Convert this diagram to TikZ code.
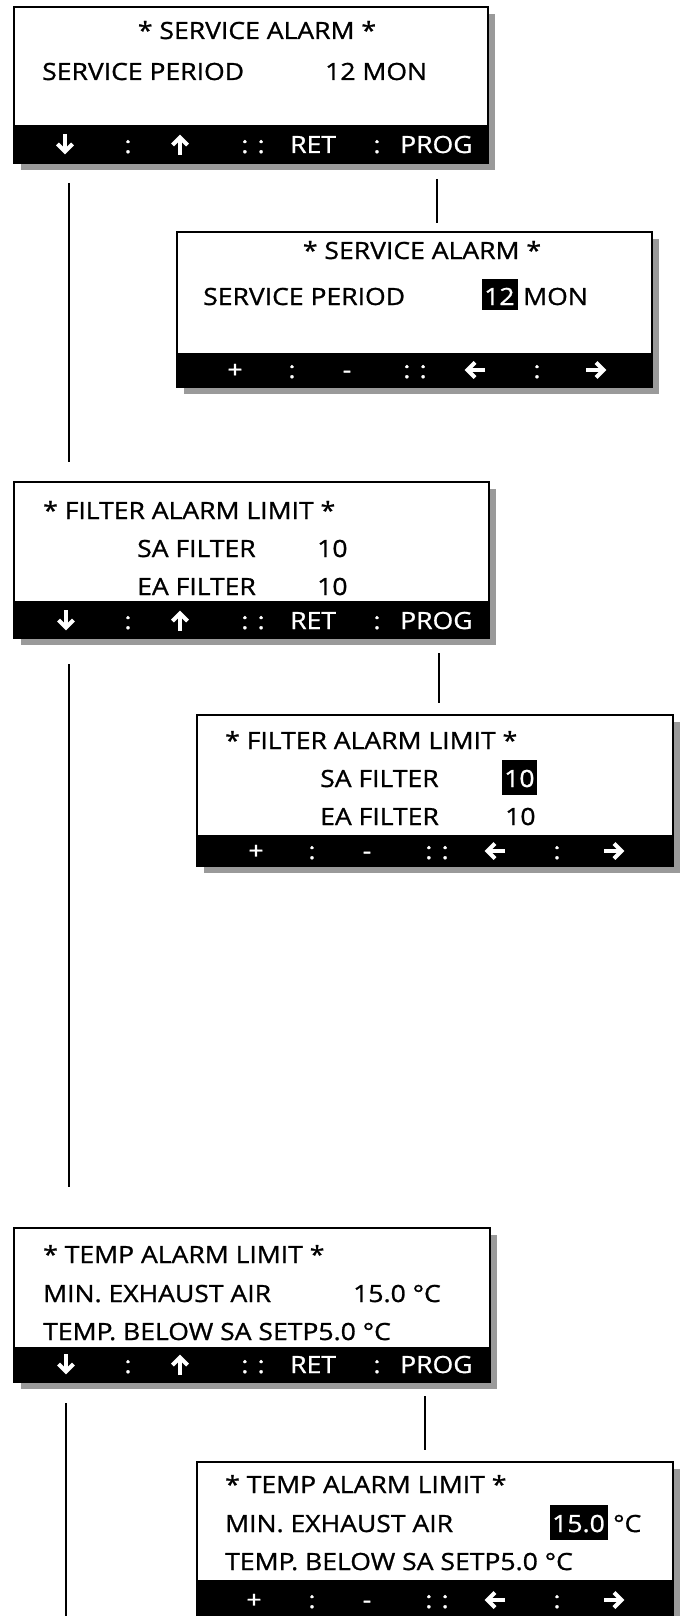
\documentclass[tikz,border=0pt]{standalone}
\usepackage{fontspec}
\setmainfont{Open Sans}[FakeStretch=1.12, FakeBold=1]
\definecolor{shadowgray}{HTML}{9A9A9A}
\newcommand\screen[6]{%
  \fill[shadowgray] (#2+7,#3+7) rectangle (#4+7,#5+7);
  \fill[white] (#2,#3) rectangle (#4,#5);
  \fill[black] (#2,#6) rectangle (#4,#5);
  \draw[line width=1.6pt] (#2,#3) rectangle (#4,#5);
  \coordinate (#1) at (#2,#3);
}
\tikzset{
  lcd/.style={font=\fontsize{23.7}{28}\selectfont, inner sep=0pt, anchor=base west},
  lcdc/.style={lcd, anchor=base},
  barc/.style={lcd, anchor=base, text=white},
  barw/.style={lcd, text=white},
  hlbox/.style={fill=black},
  conn/.style={line width=2pt},
  arr/.style={white, line width=4.2pt, line join=miter, line cap=butt},
  darr/.pic={\draw[arr] (0,-10) -- (0,6); \draw[arr] (-7.5,0) -- (0,7.5) -- (7.5,0);},
  uarr/.pic={\draw[arr] (0,10) -- (0,-6); \draw[arr] (-7.5,0) -- (0,-7.5) -- (7.5,0);},
  larr/.pic={\draw[arr] (10,0) -- (-6,0); \draw[arr] (0,-7.5) -- (-7.5,0) -- (0,7.5);},
  rarr/.pic={\draw[arr] (-10,0) -- (6,0); \draw[arr] (0,-7.5) -- (7.5,0) -- (0,7.5);},
}
\begin{document}
\begin{tikzpicture}[x=1pt,y=-1pt]
\useasboundingbox (0,0) rectangle (683,1616);
\clip (0,0) rectangle (683,1616);

% ---------- Screen 1 ----------
\screen{b1}{14}{7}{488}{163}{125}
\node[lcdc] (t1a) at (257,39) {* SERVICE ALARM *};
\node[lcd] (t1b) at (42,80) {SERVICE PERIOD};
\node[lcd] (t1c) at (325,80) {12 MON};
\pic at (65,144) {darr};
\node[barc] (k1a) at (128,153) {:};
\pic at (180,145) {uarr};
\node[barc] (k1b) at (253,153) {: :};
\node[barw] (k1c) at (290,153) {RET};
\node[barc] (k1d) at (377,153) {:};
\node[barw] (k1e) at (400,153) {PROG};

% ---------- Screen 2 ----------
\screen{b2}{177}{232}{652}{387}{353}
\node[lcdc] (t2a) at (422,259) {* SERVICE ALARM *};
\node[lcd] (t2b) at (203,305) {SERVICE PERIOD};
\fill[hlbox] (482,279) rectangle (518,310);
\node[lcd, text=white] (t2c) at (484,305) {12};
\node[lcd] (t2d) at (523,305) {MON};
\node[barc] (k2a) at (235,378) {+};
\node[barc] (k2b) at (292,378) {:};
\node[barc] (k2c) at (347,378) {-};
\node[barc] (k2d) at (415,378) {: :};
\pic at (475,370) {larr};
\node[barc] (k2e) at (537,378) {:};
\pic at (596,370) {rarr};

% ---------- Screen 3 ----------
\screen{b3}{14}{482}{489}{638}{601}
\node[lcd] (t3a) at (43,519) {* FILTER ALARM LIMIT *};
\node[lcd] (t3b) at (137,557) {SA FILTER};
\node[lcd] (t3c) at (317,557) {10};
\node[lcd] (t3d) at (137,595) {EA FILTER};
\node[lcd] (t3e) at (317,595) {10};
\pic at (66,620) {darr};
\node[barc] (k3a) at (128,629) {:};
\pic at (180,621) {uarr};
\node[barc] (k3b) at (253,629) {: :};
\node[barw] (k3c) at (290,629) {RET};
\node[barc] (k3d) at (377,629) {:};
\node[barw] (k3e) at (400,629) {PROG};

% ---------- Screen 4 ----------
\screen{b4}{197}{715}{673}{866}{835}
\node[lcd] (t4a) at (225,749) {* FILTER ALARM LIMIT *};
\node[lcd] (t4b) at (320,787) {SA FILTER};
\fill[hlbox] (502,760) rectangle (537,795);
\node[lcd, text=white] (t4c) at (504,787) {10};
\node[lcd] (t4d) at (320,825) {EA FILTER};
\node[lcd] (t4e) at (505,825) {10};
\node[barc] (k4a) at (256,859) {+};
\node[barc] (k4b) at (312,859) {:};
\node[barc] (k4c) at (367,859) {-};
\node[barc] (k4d) at (437,859) {: :};
\pic at (495,851) {larr};
\node[barc] (k4e) at (557,859) {:};
\pic at (614,851) {rarr};

% ---------- Screen 5 ----------
\screen{b5}{14}{1228}{490}{1382}{1347}
\node[lcd] (t5a) at (43,1263) {* TEMP ALARM LIMIT *};
\node[lcd] (t5b) at (43,1302) {MIN. EXHAUST AIR};
\node[lcd] (t5c) at (353,1302) {15.0 °C};
\node[lcd] (t5d) at (43,1340) {TEMP. BELOW SA SETP5.0 °C};
\pic at (66,1364) {darr};
\node[barc] (k5a) at (128,1373) {:};
\pic at (180,1365) {uarr};
\node[barc] (k5b) at (253,1373) {: :};
\node[barw] (k5c) at (290,1373) {RET};
\node[barc] (k5d) at (377,1373) {:};
\node[barw] (k5e) at (400,1373) {PROG};

% ---------- Screen 6 ----------
\screen{b6}{197}{1462}{673}{1630}{1580}
\node[lcd] (t6a) at (225,1493) {* TEMP ALARM LIMIT *};
\node[lcd] (t6b) at (225,1532) {MIN. EXHAUST AIR};
\fill[hlbox] (550,1505) rectangle (608,1540);
\node[lcd, text=white] (t6c) at (552,1532) {15.0};
\node[lcd] (t6d) at (613,1532) {°C};
\node[lcd] (t6e) at (225,1570) {TEMP. BELOW SA SETP5.0 °C};
\node[barc] (k6a) at (254,1608) {+};
\node[barc] (k6b) at (312,1608) {:};
\node[barc] (k6c) at (367,1608) {-};
\node[barc] (k6d) at (437,1608) {: :};
\pic at (495,1600) {larr};
\node[barc] (k6e) at (557,1608) {:};
\pic at (614,1600) {rarr};

% ---------- connectors ----------
\coordinate (l1s) at (69,183);   \coordinate (l1e) at (69,462);
\coordinate (r1s) at (437,179);  \coordinate (r1e) at (437,223);
\coordinate (l3s) at (69,664);   \coordinate (l3e) at (69,1187);
\coordinate (r3s) at (439,653);  \coordinate (r3e) at (439,703);
\coordinate (l5s) at (66,1403);  \coordinate (l5e) at (66,1620);
\coordinate (r5s) at (425,1396); \coordinate (r5e) at (425,1450);
\draw[conn] (l1s) -- (l1e);
\draw[conn] (r1s) -- (r1e);
\draw[conn] (l3s) -- (l3e);
\draw[conn] (r3s) -- (r3e);
\draw[conn] (l5s) -- (l5e);
\draw[conn] (r5s) -- (r5e);
\end{tikzpicture}
\end{document}
